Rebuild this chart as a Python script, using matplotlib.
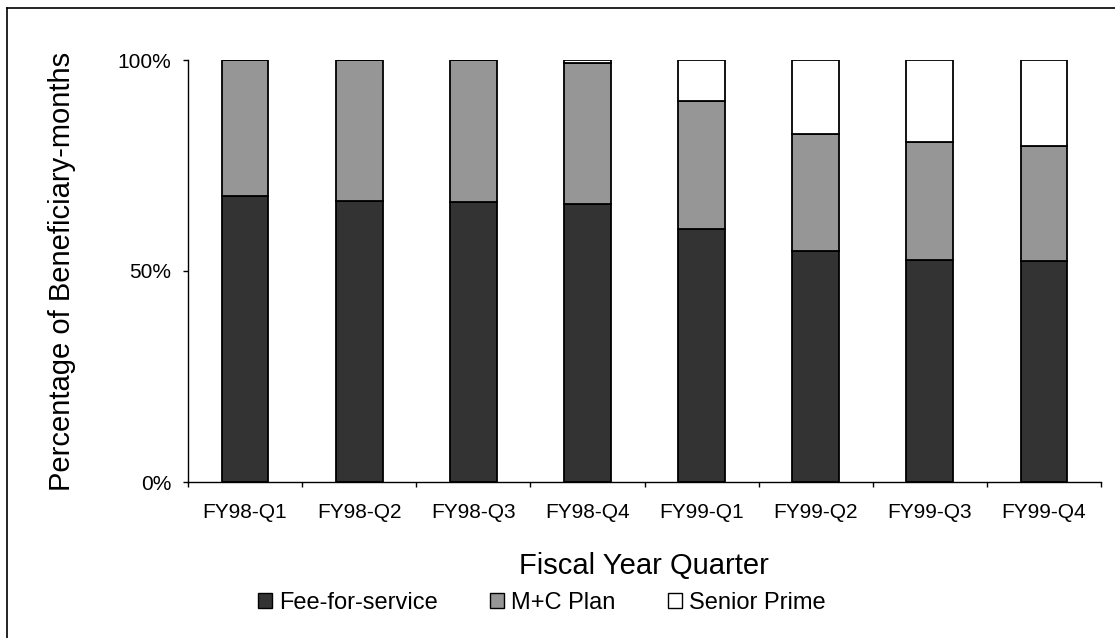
import numpy as np
import matplotlib
matplotlib.use("Agg")
import matplotlib.pyplot as plt
from matplotlib.patches import Patch
from matplotlib.lines import Line2D

plt.rcParams["font.family"] = ["Liberation Sans", "DejaVu Sans"]

quarters = ["FY98-Q1", "FY98-Q2", "FY98-Q3", "FY98-Q4",
            "FY99-Q1", "FY99-Q2", "FY99-Q3", "FY99-Q4"]
fee_for_service = [67.8, 66.7, 66.3, 65.9, 60.0, 54.8, 52.7, 52.3]
mc_plan = [32.2, 33.3, 33.7, 33.3, 30.4, 27.6, 27.8, 27.3]
senior_prime = [0.0, 0.0, 0.0, 0.8, 9.6, 17.6, 19.5, 20.4]

W, H = 1115, 638
fig = plt.figure(figsize=(W / 100, H / 100), dpi=100)
ax = fig.add_axes([188 / W, 1 - 482 / H, 913 / W, 422 / H])

x = np.arange(len(quarters))
ffs = np.array(fee_for_service)
mc = np.array(mc_plan)
sp = np.array(senior_prime)

bw = 0.41
kw = dict(width=bw, edgecolor="black", linewidth=1.3)
ax.bar(x, ffs, color="#333333", **kw)
ax.bar(x, mc, bottom=ffs, color="#969696", **kw)
ax.bar(x, sp, bottom=ffs + mc, color="white", **kw)

ax.set_xlim(-0.5, len(quarters) - 0.5)
ax.set_ylim(0, 100)

ax.set_yticks([0, 50, 100])
ax.set_yticklabels(["0%", "50%", "100%"])
ax.tick_params(axis="y", length=3.6, width=1, pad=8.5, labelsize=15)

ax.set_xticks(x)
ax.set_xticklabels(quarters)
ax.set_xticks(np.arange(len(quarters) + 1) - 0.5, minor=True)
ax.tick_params(axis="x", which="major", length=0, pad=15, labelsize=15)
ax.tick_params(axis="x", which="minor", length=3.6, width=1)

for s in ["top", "right"]:
    ax.spines[s].set_visible(False)
for s in ["left", "bottom"]:
    ax.spines[s].set_linewidth(1)
    ax.spines[s].set_color("black")

fig.text(62 / W, 1 - 271 / H, "Percentage of Beneficiary-months",
         rotation=90, ha="center", va="center", fontsize=21)
fig.text(644 / W, 1 - 566 / H, "Fiscal Year Quarter",
         ha="center", va="center", fontsize=21)

handles = [Patch(facecolor="#333333", edgecolor="black", linewidth=1),
           Patch(facecolor="#969696", edgecolor="black", linewidth=1),
           Patch(facecolor="white", edgecolor="black", linewidth=1)]
fig.legend(handles, ["Fee-for-service", "M+C Plan", "Senior Prime"],
           loc="center left", bbox_to_anchor=(258 / W, 1 - 603 / H),
           ncol=3, frameon=False, fontsize=17, handlelength=0.6,
           handleheight=0.6, handletextpad=0.3, columnspacing=2.2,
           borderaxespad=0, borderpad=0)

# outer chart frame (clipped at the right and bottom edges)
fig.add_artist(Line2D([7 / W, 7 / W], [0, 1 - 8 / H], color="black", linewidth=1.2))
fig.add_artist(Line2D([7 / W, 1], [1 - 8 / H, 1 - 8 / H], color="black", linewidth=1.2))

fig.savefig("out.png", dpi=100)
